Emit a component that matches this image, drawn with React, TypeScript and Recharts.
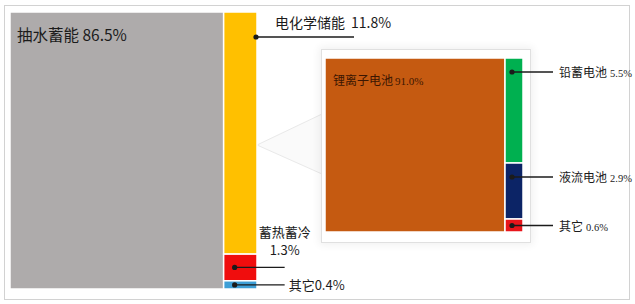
import React from "react";
import { Treemap, ComposedChart, XAxis, YAxis, ReferenceArea, Scatter } from "recharts";

const storageNames = ["抽水蓄能", "电化学储能", "蓄热蓄冷", "其它"];
const storageShares = [86.5, 11.8, 1.3, 0.4];

const batteryNames = ["锂离子电池", "铅蓄电池", "液流电池", "其它"];
const batteryShares = [91.0, 5.5, 2.9, 0.6];

const STORAGE_COLORS = ["#AEABAB", "#FFC000", "#F00D0D", "#3E9FD6"];
const BATTERY_COLORS = ["#C55A11", "#00B050", "#0C2466", "#E8151B"];

const batteryData = batteryNames.map((name, i) => ({ name, value: batteryShares[i] }));

// mosaic: first item is a full-height block, the rest stack top-down in a column beside it
const total = storageShares.reduce((a, b) => a + b, 0);
const columnTotal = total - storageShares[0];
const storageAreas = storageNames.map((name, i) => {
  if (i === 0) return { name, value: storageShares[i], x1: 0, x2: storageShares[0], y1: 0, y2: columnTotal };
  const above = storageShares.slice(1, i).reduce((a, b) => a + b, 0);
  return {
    name,
    value: storageShares[i],
    x1: storageShares[0],
    x2: total,
    y1: columnTotal - above - storageShares[i],
    y2: columnTotal - above,
  };
});

const SANS = '"Noto Sans CJK SC", "Noto Sans", sans-serif';
const SERIF = '"Liberation Serif", "DejaVu Serif", serif';
const INK = "#1b1b1b";

const pct = (v: number) => `${v.toFixed(1)}%`;

function Leader({ x1, x2, y }: { x1: number; x2: number; y: number }) {
  return (
    <g>
      <line x1={x1} y1={y} x2={x2} y2={y} stroke={INK} strokeWidth={1.3} />
      <circle cx={x1} cy={y} r={2.6} fill={INK} />
    </g>
  );
}

function StorageCell(props: any) {
  const { index, x, y, width, height, name, value } = props;
  const rect = (
    <rect x={x} y={y} width={width} height={height} fill={STORAGE_COLORS[index]} stroke="#fff" strokeWidth={1.5} />
  );

  if (index === 0) {
    return (
      <g>
        {rect}
        <text x={x + 7} y={y + 29} fontSize={15.5} fill={INK} fontFamily={SANS}>
          {name} {pct(value)}
        </text>
      </g>
    );
  }
  if (index === 1) {
    const cx = x + width - 1;
    const cy = y + 25;
    return (
      <g>
        {rect}
        <Leader x1={cx} x2={cx + 98} y={cy} />
        <text x={cx + 19} y={cy - 9} fontSize={14} fill={INK} fontFamily={SANS}>
          {name}
          <tspan dx={6}>{pct(value)}</tspan>
        </text>
      </g>
    );
  }
  const cx = x + 11;
  const cy = y + height / 2;
  if (index === 2) {
    return (
      <g>
        {rect}
        <Leader x1={cx} x2={cx + 50} y={cy} />
        <text x={cx + 50} y={y - 17} fontSize={13} fill={INK} fontFamily={SANS} textAnchor="middle">
          {name}
        </text>
        <text x={cx + 50} y={y + 1} fontSize={13} fill={INK} fontFamily={SANS} textAnchor="middle">
          {pct(value)}
        </text>
      </g>
    );
  }
  return (
    <g>
      {rect}
      <Leader x1={cx} x2={cx + 50} y={cy} />
      <text x={cx + 54} y={cy + 5} fontSize={13} fill={INK} fontFamily={SANS}>
        {name}
        {pct(value)}
      </text>
    </g>
  );
}

function BatteryNode(props: any) {
  const { depth, index, x, y, width, height, name, value } = props;
  if (depth !== 1) return null;
  const rect = (
    <rect x={x} y={y} width={width} height={height} fill={BATTERY_COLORS[index]} stroke="#fff" strokeWidth={1.5} />
  );

  if (index === 0) {
    return (
      <g>
        {rect}
        <text x={x + 8} y={y + 27} fill="#3b1602">
          <tspan fontFamily={SANS} fontSize={12}>{name}</tspan>
          <tspan dx={2} fontFamily={SERIF} fontSize={11}>{pct(value)}</tspan>
        </text>
      </g>
    );
  }
  const cx = x + 7;
  const cy = Math.min(y + 14, y + height / 2);
  return (
    <g>
      {rect}
      <Leader x1={cx} x2={x + 48} y={cy} />
      <text x={x + 54} y={cy + 5} fill={INK}>
        <tspan fontFamily={SANS} fontSize={12}>{name}</tspan>
        <tspan dx={3} fontFamily={SERIF} fontSize={10.5}>{pct(value)}</tspan>
      </text>
    </g>
  );
}

export default function App() {
  return (
    <div style={{ position: "absolute", left: 0, top: 0, width: 635, height: 304, background: "#fff", overflow: "hidden" }}>
      <style>{".recharts-surface{overflow:visible}"}</style>

      {/* frame + callout wedge */}
      <svg width={635} height={304} style={{ position: "absolute", left: 0, top: 0 }}>
        <rect x={4.5} y={5.5} width={625} height={294} fill="#fff" stroke="#d2d2d2" />
        <polygon points="257,145 322,114 322,174" fill="#fafafa" stroke="#e9e9e9" strokeWidth={1} />
      </svg>

      <div style={{ position: "absolute", left: 10, top: 12 }}>
        <ComposedChart width={247} height={277} data={storageAreas} margin={{ top: 0, right: 0, bottom: 0, left: 0 }}>
          <XAxis type="number" dataKey="x2" domain={[0, total]} allowDataOverflow hide />
          <YAxis type="number" domain={[0, columnTotal]} allowDataOverflow hide />
          {/* invisible carrier series so the axes get set up */}
          <Scatter dataKey="y2" isAnimationActive={false} legendType="none" shape={() => <g />} />
          {storageAreas.map((a, i) => (
            <ReferenceArea
              key={a.name + i}
              x1={a.x1}
              x2={a.x2}
              y1={a.y1}
              y2={a.y2}
              ifOverflow="visible"
              shape={(p: any) => <StorageCell {...p} index={i} name={a.name} value={a.value} />}
            />
          ))}
        </ComposedChart>
      </div>

      <div
        style={{
          position: "absolute",
          left: 321,
          top: 49,
          width: 208,
          height: 192,
          background: "#fff",
          border: "1px solid #e0e0e0",
          boxShadow: "0 0 8px 2px rgba(0,0,0,0.06)",
        }}
      />

      <div style={{ position: "absolute", left: 325, top: 58 }}>
        <Treemap
          width={198}
          height={174}
          data={batteryData}
          dataKey="value"
          nameKey="name"
          isAnimationActive={false}
          content={<BatteryNode />}
        />
      </div>
    </div>
  );
}
